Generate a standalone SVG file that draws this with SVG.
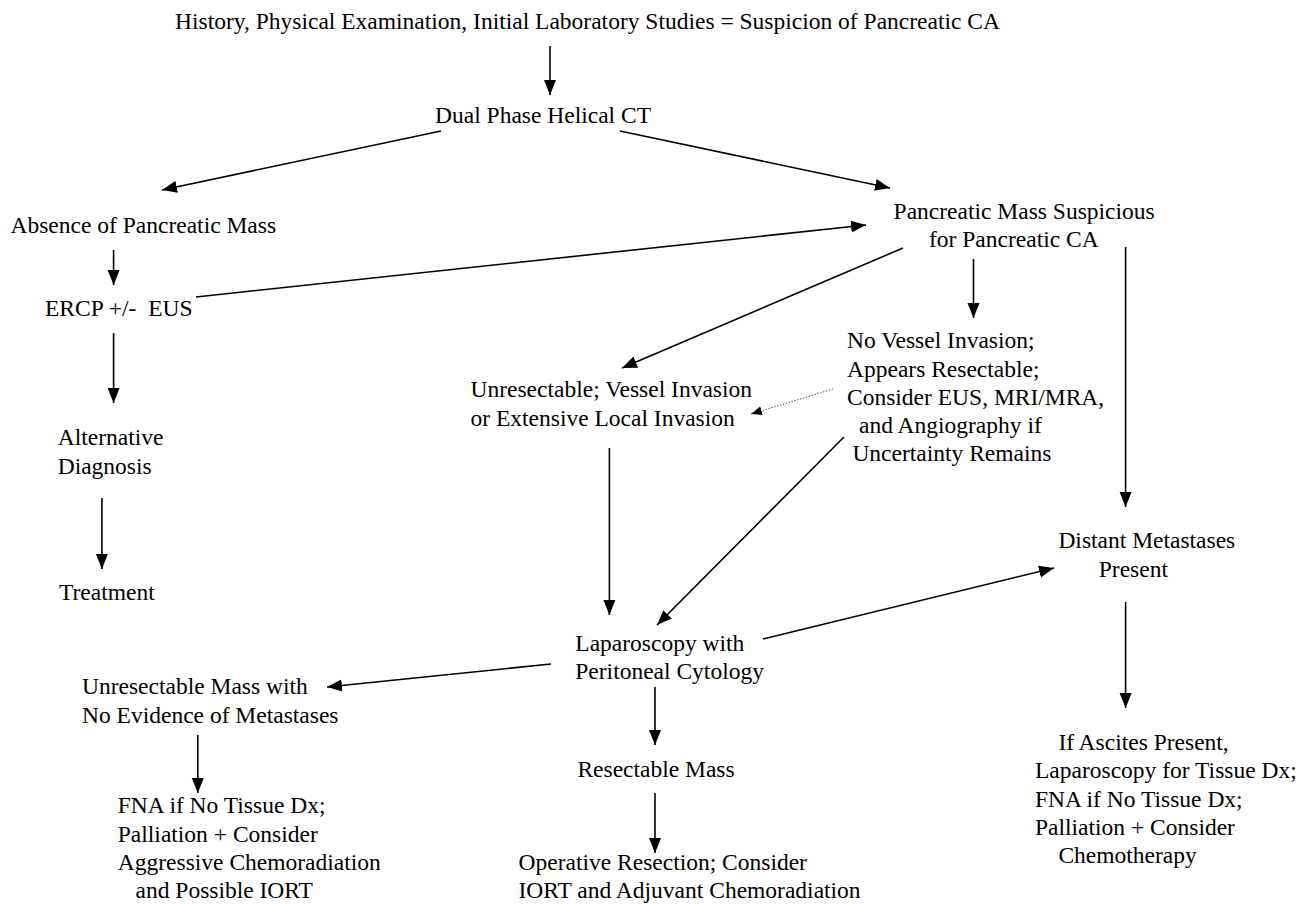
<svg xmlns="http://www.w3.org/2000/svg" width="1306" height="904" viewBox="0 0 1306 904">
<defs>
<marker id="ah" markerUnits="userSpaceOnUse" markerWidth="16" markerHeight="14" refX="15" refY="6" orient="auto" viewBox="0 0 16 12">
<path d="M0,0 L15,6 L0,12 z" fill="#000"/>
</marker>
<marker id="ahs" markerUnits="userSpaceOnUse" markerWidth="12" markerHeight="10" refX="11" refY="4.5" orient="auto" viewBox="0 0 12 9">
<path d="M0,0 L11,4.5 L0,9 z" fill="#000"/>
</marker>
</defs>
<rect width="1306" height="904" fill="#fff"/>
<g id="connectors" stroke="#000" stroke-width="1.6" fill="none" marker-end="url(#ah)">
<line x1="550" y1="46" x2="550" y2="95"/>
<line x1="441" y1="131" x2="162" y2="190"/>
<line x1="620" y1="131" x2="890" y2="188"/>
<line x1="113.6" y1="250" x2="113.6" y2="285"/>
<line x1="196" y1="297" x2="866" y2="225"/>
<line x1="113.6" y1="333" x2="113.6" y2="403"/>
<line x1="903" y1="248" x2="622" y2="368"/>
<line x1="973.5" y1="259" x2="973.5" y2="318"/>
<line x1="1125.6" y1="247" x2="1125.6" y2="507"/>
<line x1="833" y1="389" x2="751" y2="414" stroke="#666" stroke-width="1.1" stroke-dasharray="1.5 1.5" marker-end="url(#ahs)"/>
<line x1="101.9" y1="498" x2="101.9" y2="569"/>
<line x1="609.4" y1="448" x2="609.4" y2="615"/>
<line x1="844" y1="437" x2="657" y2="625"/>
<line x1="551" y1="664" x2="327" y2="687"/>
<line x1="763" y1="639" x2="1054" y2="568"/>
<line x1="655" y1="687" x2="655" y2="745"/>
<line x1="197.8" y1="735" x2="197.8" y2="793"/>
<line x1="655" y1="793" x2="655" y2="853"/>
<line x1="1125.6" y1="602" x2="1125.6" y2="708"/>
</g>
<g font-family="Liberation Serif, serif" font-size="23.5" fill="#000">
<g id="n-history"><text x="175" y="29">History, Physical Examination, Initial Laboratory Studies = Suspicion of Pancreatic CA</text></g>
<g id="n-ct"><text x="435" y="123">Dual Phase Helical CT</text></g>
<g id="n-absence"><text x="10.5" y="233">Absence of Pancreatic Mass</text></g>
<g id="n-mass"><text x="893.6" y="218.5">Pancreatic Mass Suspicious</text><text x="929" y="247">for Pancreatic CA</text></g>
<g id="n-ercp"><text x="45" y="316" xml:space="preserve">ERCP +/-  EUS</text></g>
<g id="n-alt"><text x="57.7" y="445">Alternative</text><text x="57.7" y="473.5">Diagnosis</text></g>
<g id="n-treatment"><text x="59" y="599.5">Treatment</text></g>
<g id="n-unres"><text x="470.5" y="397">Unresectable; Vessel Invasion</text><text x="470.5" y="425.7">or Extensive Local Invasion</text></g>
<g id="n-novessel"><text x="847" y="348.3">No Vessel Invasion;</text><text x="847" y="376.7">Appears Resectable;</text><text x="847" y="405">Consider EUS, MRI/MRA,</text><text x="859" y="433.3">and Angiography if</text><text x="852.4" y="461">Uncertainty Remains</text></g>
<g id="n-distant"><text x="1058.4" y="548.3">Distant Metastases</text><text x="1098.8" y="576.7">Present</text></g>
<g id="n-lap"><text x="575.3" y="651">Laparoscopy with</text><text x="575.3" y="678.5">Peritoneal Cytology</text></g>
<g id="n-unresmass"><text x="82" y="694">Unresectable Mass with</text><text x="82" y="722.7">No Evidence of Metastases</text></g>
<g id="n-resmass"><text x="577.4" y="776.7">Resectable Mass</text></g>
<g id="n-fna"><text x="117.8" y="813.3">FNA if No Tissue Dx;</text><text x="117.8" y="841.7">Palliation + Consider</text><text x="117.8" y="870">Aggressive Chemoradiation</text><text x="135.5" y="898.3">and Possible IORT</text></g>
<g id="n-operative"><text x="518.5" y="870">Operative Resection; Consider</text><text x="518.5" y="897.5">IORT and Adjuvant Chemoradiation</text></g>
<g id="n-ascites"><text x="1058.4" y="750">If Ascites Present,</text><text x="1035" y="778.3">Laparoscopy for Tissue Dx;</text><text x="1035" y="806.7">FNA if No Tissue Dx;</text><text x="1035" y="835">Palliation + Consider</text><text x="1058.4" y="863.3">Chemotherapy</text></g>
</g>
</svg>
